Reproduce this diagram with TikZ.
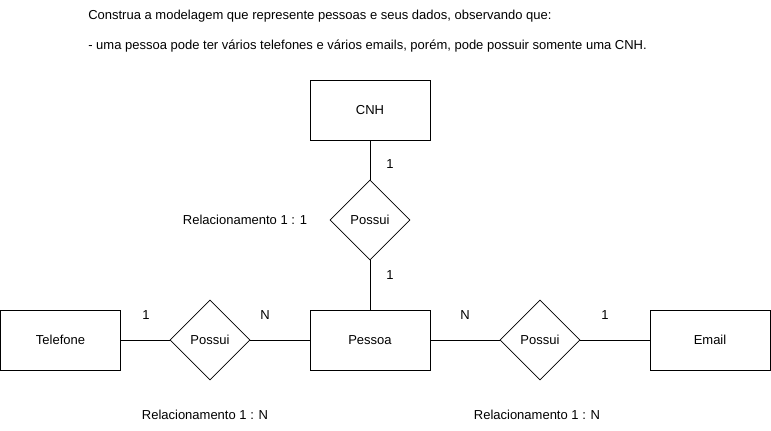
\documentclass[tikz,border=0pt]{standalone}
\usepackage{fontspec}
\setmainfont{Liberation Sans}
\usetikzlibrary{shapes.geometric}
\begin{document}
\begin{tikzpicture}[x=0.75pt,y=-0.75pt,
  every node/.style={font=\fontsize{9.75pt}{12pt}\selectfont},
  entity/.style={draw,line width=0.75pt,minimum width=90pt,minimum height=45pt,inner sep=0pt},
  rel/.style={draw,line width=0.6pt,diamond,minimum width=60pt,minimum height=60pt,inner sep=0pt},
  conn/.style={line width=0.75pt},
  lbl/.style={inner sep=0pt}]
\useasboundingbox (0,0) rectangle (771,430);
\node[lbl,anchor=west] (t1) at (88,16) {Construa a modelagem que represente pessoas e seus dados, observando que:};
\node[lbl,anchor=west] (t2) at (88,46) {- uma pessoa pode ter vários telefones e vários emails, porém, pode possuir somente uma CNH.};
\node[entity] (cnh) at (370,110) {CNH};
\node[rel] (r1) at (370,220) {Possui};
\node[entity] (pes) at (370,340) {Pessoa};
\node[entity] (tel) at (60.5,340) {Telefone};
\node[rel] (r2) at (210,340) {Possui};
\node[rel] (r3) at (540,340) {Possui};
\node[entity] (em) at (710,340) {Email};
\draw[conn] (cnh.south) -- (r1.north);
\draw[conn] (r1.south) -- (pes.north);
\draw[conn] (tel.east) -- (r2.west);
\draw[conn] (r2.east) -- (pes.west);
\draw[conn] (pes.east) -- (r3.west);
\draw[conn] (r3.east) -- (em.west);
\node[lbl] (c1) at (390,164) {1};
\node[lbl] (c2) at (390,275) {1};
\node[lbl] (rl1) at (245,220) {Relacionamento 1 : 1};
\node[lbl] (c3) at (146,315) {1};
\node[lbl] (c4) at (265,315) {N};
\node[lbl] (c5) at (465,315) {N};
\node[lbl] (c6) at (605,315) {1};
\node[lbl] (rl2) at (205,415) {Relacionamento 1 : N};
\node[lbl] (rl3) at (537,415) {Relacionamento 1 : N};
\end{tikzpicture}
\end{document}
